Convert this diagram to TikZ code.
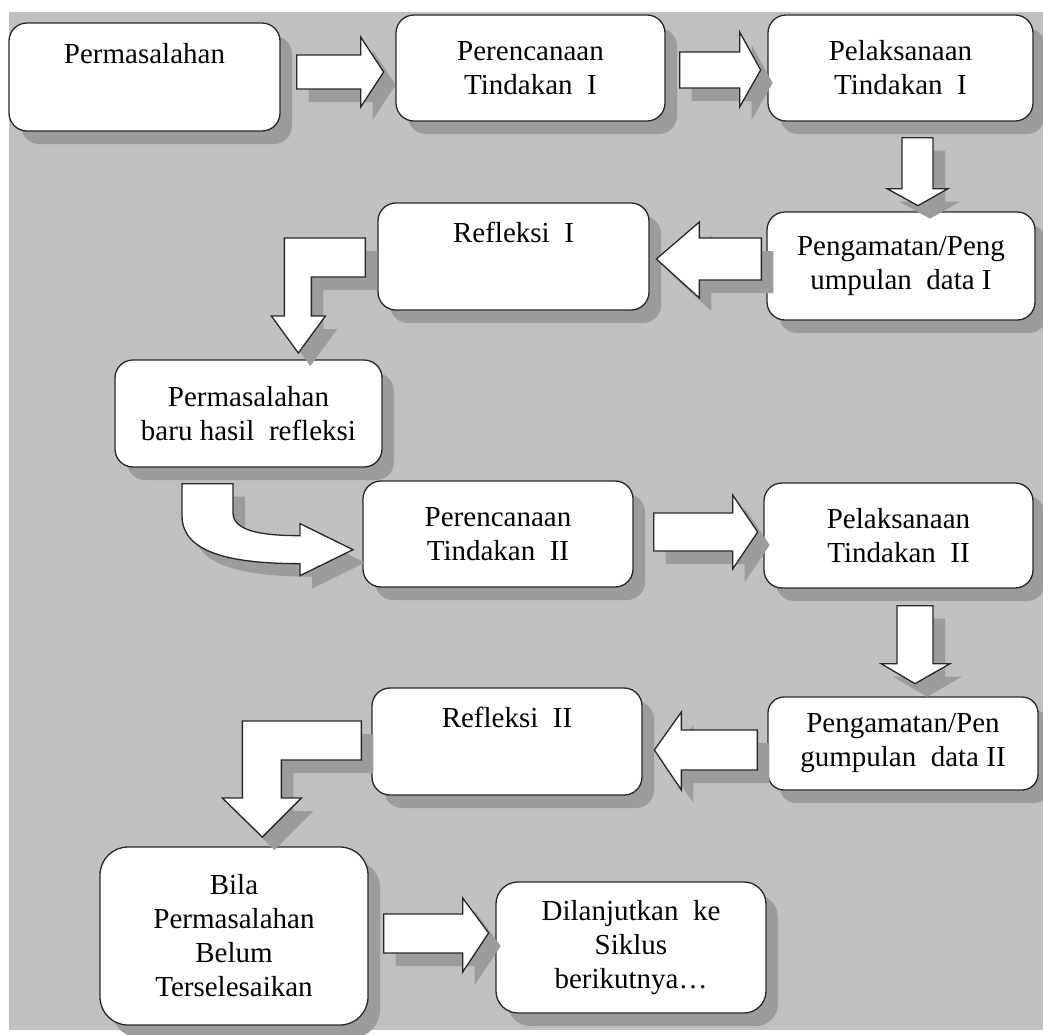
\documentclass[tikz,border=0pt]{standalone}
\usepackage{fontspec}
\setmainfont{Liberation Serif}
\usetikzlibrary{shadows}
\definecolor{bggray}{RGB}{192,192,192}
\definecolor{shadegray}{RGB}{156,156,156}
\definecolor{edgegray}{RGB}{40,40,40}
\tikzset{
  box/.style={draw=edgegray, line width=1.3pt, fill=white, rounded corners=18pt,
    align=center, inner sep=0pt, font=\fontsize{29}{34}\selectfont,
    drop shadow={shadow xshift=12pt, shadow yshift=-13pt, fill=shadegray, opacity=1}},
  bigarrow/.style={draw=edgegray, line width=1.3pt, fill=white, line join=miter,
    drop shadow={shadow xshift=12pt, shadow yshift=-13pt, fill=shadegray, opacity=1}}
}
\begin{document}
\begin{tikzpicture}[x=1pt, y=-1pt]
  \useasboundingbox (0,0) rectangle (1043,1034);
  \fill[bggray] (9,12) rectangle (1043,1030);
  % boxes
  \node[box, minimum width=271, minimum height=108] (perm) at (144.5,77) {Permasalahan\\[14pt]\mbox{}};
  \node[box, minimum width=269, minimum height=106] (ren1) at (530.5,68) {Perencanaan\\Tindakan\ \ I};
  \node[box, minimum width=265, minimum height=106] (pel1) at (900.5,68) {Pelaksanaan\\Tindakan\ \ I};
  \node[box, minimum width=268, minimum height=108] (amat1) at (901,266) {Pengamatan/Peng\\umpulan\ \ data I};
  \node[box, minimum width=271, minimum height=107] (ref1) at (513.5,256.5) {Refleksi\ \ I\\[14pt]\mbox{}};
  \node[box, minimum width=267, minimum height=107] (baru) at (248.5,413.5) {Permasalahan\\baru hasil\ \ refleksi};
  \node[box, minimum width=270, minimum height=106] (ren2) at (498,534) {Perencanaan\\Tindakan\ \ II};
  \node[box, minimum width=269, minimum height=105] (pel2) at (898.5,535.5) {Pelaksanaan\\Tindakan\ \ II};
  \node[box, minimum width=270, minimum height=93, rounded corners=16pt] (amat2) at (903,743.5) {Pengamatan/Pen\\gumpulan\ \ data II};
  \node[box, minimum width=270, minimum height=107] (ref2) at (507,741.5) {Refleksi\ \ II\\[14pt]\mbox{}};
  \node[box, minimum width=268, minimum height=178, rounded corners=28pt] (bila) at (234,936) {Bila\\Permasalahan\\Belum\\Terselesaikan};
  \node[box, minimum width=270, minimum height=131, rounded corners=22pt] (lanjut) at (631,947.5) {Dilanjutkan\ \ ke\\Siklus\\berikutnya\dots};
  % block arrows
  \draw[bigarrow] (perm.east) ++(16,-22) -- ++(64,0) -- ++(0,-18) -- ++(23,35) -- ++(-23,35) -- ++(0,-18) -- ++(-64,0) -- cycle;
  \draw[bigarrow] (ren1.east) ++(14,-16) -- ++(60,0) -- ++(0,-20) -- ++(21,38) -- ++(-21,37) -- ++(0,-19) -- ++(-60,0) -- cycle;
  \draw[bigarrow] (pel1.south) ++(1.5,16) -- ++(31,0) -- ++(0,51) -- ++(15,0) -- ++(-30,17) -- ++(-31,-17) -- ++(15,0) -- cycle;
  \draw[bigarrow] (amat1.west) ++(-5,-28) -- ++(-62,0) -- ++(0,-16) -- ++(-43,37) -- ++(43,39) -- ++(0,-18) -- ++(62,0) -- cycle;
  \draw[bigarrow] (ref1.west) ++(-12,-18.5) -- ++(-81,0) -- ++(0,78) -- ++(-13,0) -- ++(27,37) -- ++(27,-37) -- ++(-14,0) -- ++(0,-39) -- ++(54,0) -- cycle;
  \draw[bigarrow] (baru.south) ++(-66.5,16) -- ++(51,0) -- ++(0,29) .. controls +(0,18) and +(-40,0) .. ++(67,23)
    -- ++(0,-12) -- ++(53,26) -- ++(-53,26) -- ++(0,-12) .. controls +(-75,0) and +(0,35) .. ++(-118,-48) -- cycle;
  \draw[bigarrow] (ren2.east) ++(20,-21) -- ++(79,0) -- ++(0,-18) -- ++(25,37) -- ++(-25,37) -- ++(0,-18) -- ++(-79,0) -- cycle;
  \draw[bigarrow] (pel2.south) ++(-1.5,17) -- ++(36,0) -- ++(0,58) -- ++(17,0) -- ++(-35,20) -- ++(-34,-20) -- ++(16,0) -- cycle;
  \draw[bigarrow] (amat2.west) ++(-10,-13.5) -- ++(-76,0) -- ++(0,-18) -- ++(-27,38) -- ++(27,40) -- ++(0,-20) -- ++(76,0) -- cycle;
  \draw[bigarrow] (ref2.west) ++(-10,-20.5) -- ++(-119,0) -- ++(0,77) -- ++(-20,0) -- ++(40,39) -- ++(39,-39) -- ++(-20,0) -- ++(0,-38) -- ++(80,0) -- cycle;
  \draw[bigarrow] (bila.east) ++(15,-22) -- ++(79,0) -- ++(0,-16) -- ++(26,35) -- ++(-26,39) -- ++(0,-19) -- ++(-79,0) -- cycle;
\end{tikzpicture}
\end{document}
